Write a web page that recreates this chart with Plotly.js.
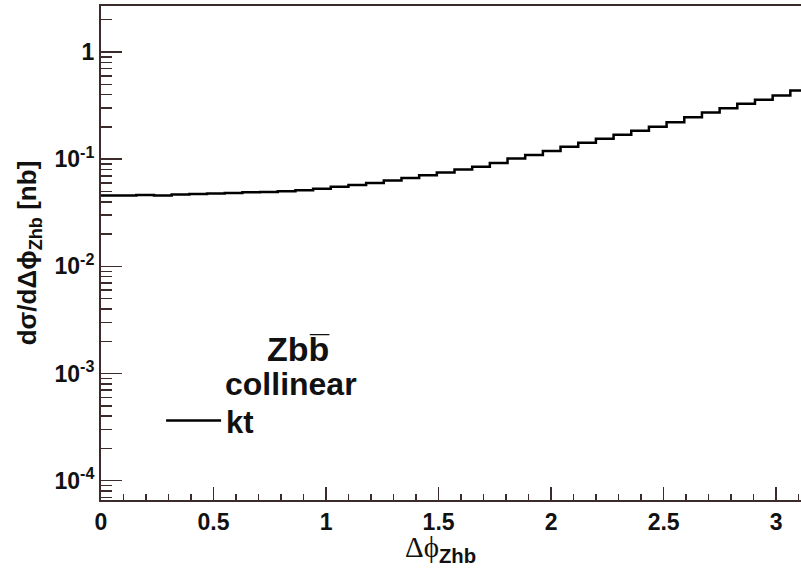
<!DOCTYPE html>
<html>
<head>
<meta charset="utf-8">
<script src="https://cdn.plot.ly/plotly-3.0.1.min.js"></script>
<style>
html,body{margin:0;padding:0;overflow:hidden;background:#fff;width:801px;height:575px;}
#chart{width:808px;height:575px;}
</style>
</head>
<body>
<div id="chart"></div>
<script>
// Number of equal-width bins spanning 0..pi
const nBins = 40;
// dsigma/dDeltaPhi [nb] per bin (kt curve)
const ktValues = [
  0.0459, 0.0459, 0.0462, 0.0457, 0.0468, 0.0473, 0.0479, 0.0484, 0.0492, 0.0495,
  0.0501, 0.0513, 0.0531, 0.0552, 0.0575, 0.0600, 0.0631, 0.0668, 0.0708, 0.0750,
  0.0800, 0.0851, 0.0923, 0.1012, 0.1096, 0.1189, 0.1303, 0.1419, 0.1549, 0.1690,
  0.1841, 0.2009, 0.2213, 0.2455, 0.2723, 0.2985, 0.3289, 0.3589, 0.3936, 0.4365
];
const seriesName = 'kt';
const xTickVals = [0, 0.5, 1, 1.5, 2, 2.5, 3];
const xTickText = ['0', '0.5', '1', '1.5', '2', '2.5', '3'];
const xMinorVals = [0.1,0.2,0.3,0.4,0.6,0.7,0.8,0.9,1.1,1.2,1.3,1.4,1.6,1.7,1.8,1.9,2.1,2.2,2.3,2.4,2.6,2.7,2.8,2.9,3.1];
const yTickVals = [1e-4, 1e-3, 1e-2, 1e-1, 1];
const yTickText = ['10<sup>-4</sup>', '10<sup>-3</sup>', '10<sup>-2</sup>', '10<sup>-1</sup>', '1'];
const yMinorMant = [2, 3, 4, 5, 6, 7, 8, 9];
const yDecades = [1e-5, 1e-4, 1e-3, 1e-2, 1e-1, 1];

const edges = [];
for (let i = 0; i <= nBins; i++) edges.push(i * Math.PI / nBins);
const yStep = ktValues.concat([ktValues[ktValues.length - 1]]);

const yMinorVals = [];
yDecades.forEach(d => yMinorMant.forEach(m => yMinorVals.push(m * d)));

const axisColor = '#3b2b2b';
const FAM = 'Liberation Sans, Arial, sans-serif';
const boldFont = {family: FAM, size: 23, color: '#111', weight: 'bold'};

const trace = {
  x: edges,
  y: yStep,
  type: 'scatter',
  mode: 'lines',
  line: {shape: 'hv', color: '#000', width: 2.5},
  name: seriesName,
  showlegend: true,
  hoverinfo: 'skip'
};

const layout = {
  width: 808,
  height: 575,
  margin: {l: 101, r: 0, t: 6, b: 75},
  paper_bgcolor: '#fff',
  plot_bgcolor: '#fff',
  showlegend: true,
  legend: {
    x: 0.085, y: 0.16, xanchor: 'left', yanchor: 'middle',
    itemwidth: 55,
    bgcolor: 'rgba(0,0,0,0)', borderwidth: 0,
    font: {family: FAM, size: 31, color: '#111', weight: 'bold'}
  },
  xaxis: {
    range: [0, Math.PI],
    showgrid: false, zeroline: false,
    showline: true, linecolor: axisColor, linewidth: 2, mirror: true,
    ticks: 'inside', ticklen: 13, tickwidth: 1.5, tickcolor: axisColor,
    tickmode: 'array', tickvals: xTickVals, ticktext: xTickText,
    minor: {tickmode: 'array', tickvals: xMinorVals, ticks: 'inside', ticklen: 6, tickwidth: 1.5, tickcolor: axisColor, showgrid: false},
    tickfont: boldFont
  },
  yaxis: {
    type: 'log',
    range: [-4.18, 0.429],
    showgrid: false, zeroline: false,
    showline: true, linecolor: axisColor, linewidth: 2, mirror: true,
    ticks: 'inside', ticklen: 21, tickwidth: 1.5, tickcolor: axisColor,
    tickmode: 'array', tickvals: yTickVals, ticktext: yTickText,
    minor: {tickmode: 'array', tickvals: yMinorVals, ticks: 'inside', ticklen: 11, tickwidth: 1.5, tickcolor: axisColor, showgrid: false},
    tickfont: boldFont,
    title: {
      text: 'dσ/dΔϕ<sub>Zhb</sub> [nb]',
      font: {family: FAM, size: 26, color: '#111', weight: 'bold'},
      standoff: 10
    }
  },
  annotations: [
    {xref: 'paper', yref: 'paper', x: 0.48, y: -0.058, xanchor: 'center', yanchor: 'top', showarrow: false,
     text: '<span style="font-family:Liberation Serif;font-weight:normal">Δϕ</span><sub>Zhb</sub>',
     font: {family: FAM, size: 29, color: '#111', weight: 'bold'}},
    {xref: 'paper', yref: 'paper', x: 0.232, y: 0.305, xanchor: 'left', yanchor: 'middle', showarrow: false,
     text: 'Zbb̅', font: {family: FAM, size: 34, color: '#111', weight: 'bold'}},
    {xref: 'paper', yref: 'paper', x: 0.172, y: 0.235, xanchor: 'left', yanchor: 'middle', showarrow: false,
     text: 'collinear', font: {family: FAM, size: 32, color: '#111', weight: 'bold'}}
  ]
};

Plotly.newPlot('chart', [trace], layout, {displayModeBar: false, staticPlot: true});
</script>
</body>
</html>
